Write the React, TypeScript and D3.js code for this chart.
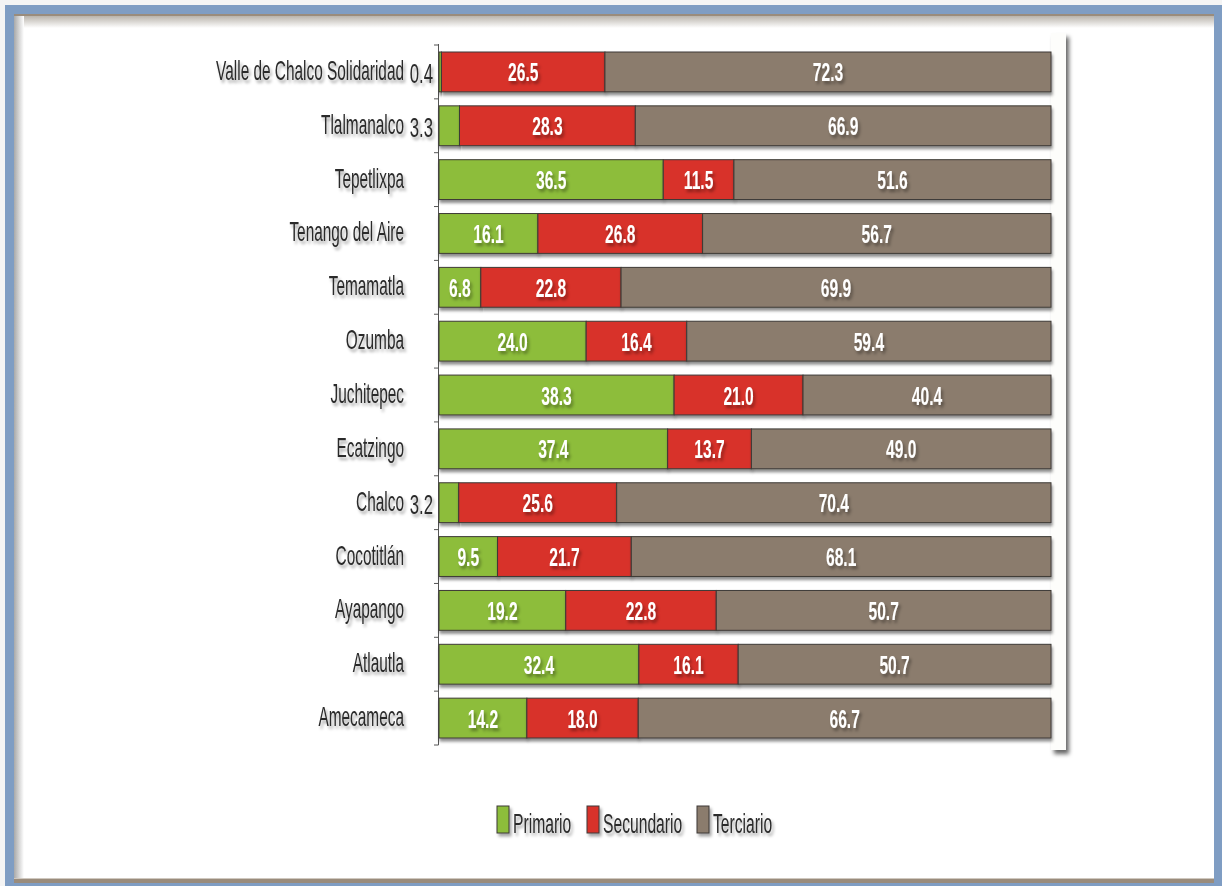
import React from "react";
import * as d3 from "d3";

const categories = [
  "Valle de Chalco Solidaridad",
  "Tlalmanalco",
  "Tepetlixpa",
  "Tenango del Aire",
  "Temamatla",
  "Ozumba",
  "Juchitepec",
  "Ecatzingo",
  "Chalco",
  "Cocotitlán",
  "Ayapango",
  "Atlautla",
  "Amecameca",
];
const primario = [0.4, 3.3, 36.5, 16.1, 6.8, 24.0, 38.3, 37.4, 3.2, 9.5, 19.2, 32.4, 14.2];
const secundario = [26.5, 28.3, 11.5, 26.8, 22.8, 16.4, 21.0, 13.7, 25.6, 21.7, 22.8, 16.1, 18.0];
const terciario = [72.3, 66.9, 51.6, 56.7, 69.9, 59.4, 40.4, 49.0, 70.4, 68.1, 50.7, 50.7, 66.7];
const seriesNames = ["Primario", "Secundario", "Terciario"];
const seriesColors = ["#8dbd3b", "#d8322c", "#8b7b6d"];

const W = 1222;
const H = 886;
const FONT = "'Liberation Sans', Arial, sans-serif";

function NText(props: {
  x: number;
  y: number;
  anchor: "start" | "middle" | "end";
  size: number;
  sx: number;
  bold?: boolean;
  fill: string;
  children: React.ReactNode;
}) {
  return (
    <text
      transform={`translate(${props.x},${props.y}) scale(${props.sx},1)`}
      textAnchor={props.anchor}
      fontSize={props.size}
      fontWeight={props.bold ? "bold" : "normal"}
      fill={props.fill}
    >
      {props.children}
    </text>
  );
}

export default function App() {
  const rows = categories.map((c, i) => ({
    cat: c,
    vals: [primario[i], secundario[i], terciario[i]],
  }));
  const x = d3.scaleLinear().domain([0, 1]).range([439, 1051]);
  const y = d3.scaleBand<string>().domain(categories).range([45, 745]).paddingInner(0.26).paddingOuter(0.13);
  const bw = y.bandwidth();
  const step = y.step();

  const stack = d3
    .stack<{ cat: string; vals: number[] }, number>()
    .keys([0, 1, 2])
    .value((d, k) => d.vals[k] / d3.sum(d.vals))(rows);

  const legendX = [497, 587, 697];

  return (
    <svg
      width={W}
      height={H}
      style={{ position: "absolute", left: 0, top: 0, display: "block" }}
      fontFamily={FONT}
    >
      <defs>
        <filter id="barShadow" x="-5%" y="-30%" width="110%" height="180%">
          <feDropShadow dx="1" dy="3" stdDeviation="1.6" floodColor="#000" floodOpacity="0.45" />
        </filter>
        <filter id="textShadow" x="-20%" y="-30%" width="150%" height="180%">
          <feDropShadow dx="2" dy="3" stdDeviation="1.8" floodColor="#000" floodOpacity="0.35" />
        </filter>
        <filter id="panelShadow" x="-50%" y="-5%" width="300%" height="115%">
          <feDropShadow dx="3" dy="4" stdDeviation="2" floodColor="#000" floodOpacity="0.6" />
        </filter>
        <linearGradient id="topShade" x1="0" y1="0" x2="0" y2="1">
          <stop offset="0" stopColor="#b9b4ac" />
          <stop offset="1" stopColor="#ffffff" />
        </linearGradient>
        <linearGradient id="leftShade" x1="0" y1="0" x2="1" y2="0">
          <stop offset="0" stopColor="#a9a9a9" />
          <stop offset="1" stopColor="#ffffff" />
        </linearGradient>
      </defs>

      {/* outer frame */}
      <rect x={0} y={0} width={W} height={H} fill="#f4f4f4" />
      <rect x={5} y={5} width={1217} height={881} fill="#7f9dc3" />
      <rect x={14} y={14} width={1200} height={869} fill="#9a8c7c" />
      <rect x={14} y={16} width={1200} height={863} fill="#ffffff" />
      <rect x={14} y={16} width={1200} height={12} fill="url(#topShade)" />
      <rect x={14} y={16} width={10} height={863} fill="url(#leftShade)" />
      <rect x={14} y={879} width={1200} height={4} fill="#9a8c7c" />
      <rect x={14} y={878} width={1200} height={1} fill="#cfc8bf" />

      {/* right wall of the plot panel */}
      <rect x={1051} y={33} width={15} height={717} fill="#fdfdfb" filter="url(#panelShadow)" />

      {/* axis */}
      <line x1={438.5} x2={438.5} y1={44} y2={745} stroke="#555" strokeWidth={1} />
      {d3.range(categories.length + 1).map((i) => {
        const yy = 45 + i * step;
        return <line key={"t" + i} x1={434} x2={438.5} y1={yy} y2={yy} stroke="#555" strokeWidth={1} />;
      })}

      {/* bars */}
      {stack.map((layer, k) => (
        <g key={"s" + k}>
          {layer.map((seg, i) => {
            const cat = categories[i];
            const x0 = x(seg[0]);
            const x1 = x(seg[1]);
            return (
              <rect
                key={cat}
                x={x0}
                y={y(cat)!}
                width={x1 - x0}
                height={bw}
                fill={seriesColors[k]}
                stroke="#3d3a36"
                strokeWidth={1}
                filter="url(#barShadow)"
              />
            );
          })}
        </g>
      ))}

      {/* segment labels */}
      {stack.map((layer, k) => (
        <g key={"l" + k} filter="url(#textShadow)">
          {layer.map((seg, i) => {
            const cat = categories[i];
            const v = rows[i].vals[k];
            const yc = y(cat)! + bw / 2 + 9;
            if (v < 5) {
              return (
                <NText key={cat} x={433} y={yc + 2} anchor="end" size={27} sx={0.62} fill="#2b2b2b">
                  {v.toFixed(1)}
                </NText>
              );
            }
            return (
              <NText
                key={cat}
                x={(x(seg[0]) + x(seg[1])) / 2}
                y={yc + 0.5}
                anchor="middle"
                size={26}
                sx={0.6}
                bold
                fill="#ffffff"
              >
                {v.toFixed(1)}
              </NText>
            );
          })}
        </g>
      ))}

      {/* category labels */}
      <g filter="url(#textShadow)">
        {categories.map((c) => (
          <NText key={c} x={404} y={y(c)! + bw / 2 + 8} anchor="end" size={27} sx={0.57} fill="#2b2b2b">
            {c}
          </NText>
        ))}
      </g>

      {/* legend */}
      <g filter="url(#textShadow)">
        {seriesNames.map((s, k) => (
          <g key={s}>
            <rect
              x={legendX[k]}
              y={806}
              width={12}
              height={27}
              fill={seriesColors[k]}
              stroke="#3d3a36"
              strokeWidth={1}
            />
            <NText x={legendX[k] + 16} y={833} anchor="start" size={27} sx={0.58} fill="#2b2b2b">
              {s}
            </NText>
          </g>
        ))}
      </g>
    </svg>
  );
}
